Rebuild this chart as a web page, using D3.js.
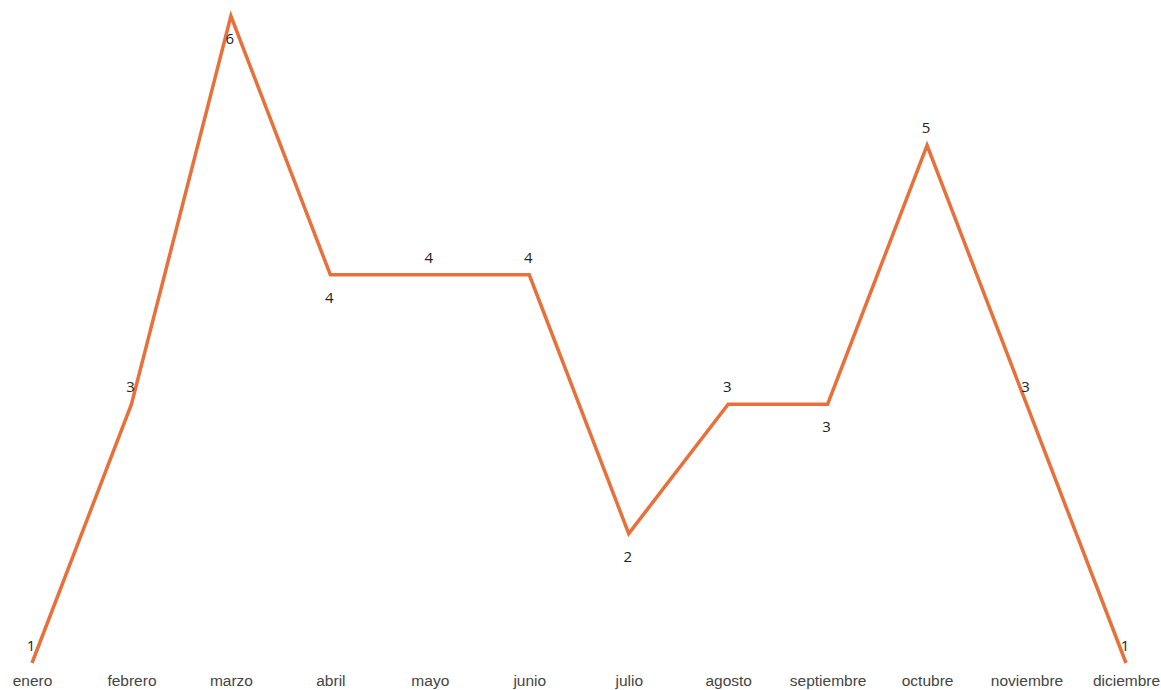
<!DOCTYPE html>
<html>
<head>
<meta charset="utf-8">
<script src="https://cdn.jsdelivr.net/npm/d3@7"></script>
<style>
    body { margin: 0; background: #fff; }
    svg { display: block; font-family: "Open Sans", sans-serif; }
</style>
</head>
<body>
<svg id="chart"></svg>
<script>
(function () {
    'use strict';

    const months = ["enero", "febrero", "marzo", "abril", "mayo", "junio",
                    "julio", "agosto", "septiembre", "octubre", "noviembre", "diciembre"];
    const counts = [1, 3, 6, 4, 4, 4, 2, 3, 3, 5, 3, 1];

    const width = 1161;
    const height = 690;
    const margin = {top: 16, right: 35, bottom: 27, left: 32};

    const svg = d3.select('#chart')
            .attr("width", width)
            .attr("height", height);

    const x = d3.scalePoint()
            .domain(months)
            .range([margin.left, width - margin.right]);

    const y = d3.scaleLinear()
            .domain(d3.extent(counts))
            .range([height - margin.bottom, margin.top]);

    const points = months.map((m, i) => ({month: m, value: counts[i], i: i}));

    svg.append("g")
        .attr("transform", `translate(0,${height - 9})`)
        .call(d3.axisBottom(x).tickSize(0).tickPadding(0))
        .call(g => g.select(".domain").remove())
        .call(g => g.selectAll("text")
            .attr("fill", "#444")
            .attr("dy", "0.35em")
            .style("font-size", "15.5px"));

    const line = d3.line()
            .x(d => x(d.month))
            .y(d => y(d.value));

    svg.append("path")
        .datum(points)
        .attr("fill", "none")
        .attr("stroke", "#e8703a")
        .attr("stroke-width", 3.5)
        .attr("stroke-linejoin", "miter")
        .attr("d", line);

    // label goes under the point when a neighbour is higher and none is lower,
    // unless that would push it off the edge
    const [minV, maxV] = d3.extent(counts);
    function below(d) {
        const nb = [counts[d.i - 1], counts[d.i + 1]].filter(v => v !== undefined);
        if (d.value === maxV) return true;
        if (d.value === minV) return false;
        return nb.some(v => v > d.value) && !nb.some(v => v < d.value);
    }

    svg.append("g")
        .attr("text-anchor", "middle")
        .style("font-size", "15px")
        .selectAll("text")
        .data(points)
        .join("text")
        .attr("fill", "#222")
        .attr("x", d => x(d.month) - 1)
        .attr("y", d => y(d.value) + (below(d) ? 28 : -12))
        .text(d => d.value);
}());
</script>
</body>
</html>
